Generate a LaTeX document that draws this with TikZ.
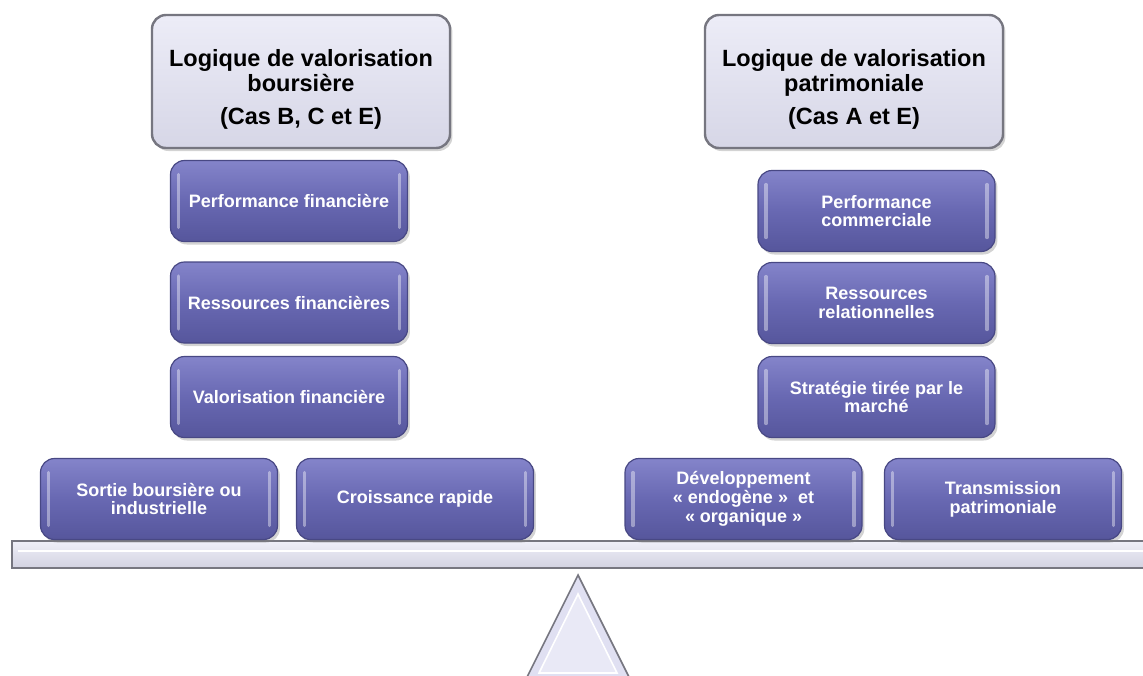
\documentclass[tikz,border=0pt]{standalone}
\usepackage{fontspec}
\setmainfont{Liberation Sans}
\usetikzlibrary{shadows}

\definecolor{boxblue}{RGB}{104,104,178}
\definecolor{boxtop}{RGB}{132,132,202}
\definecolor{boxbot}{RGB}{86,86,156}
\definecolor{boxedge}{RGB}{72,72,132}
\definecolor{lavender}{RGB}{224,224,242}
\definecolor{edgegray}{RGB}{118,118,128}

\tikzset{
  gloss/.style={path picture={
      \draw[white,opacity=.4,line width=1.6pt,line cap=round]
        ([xshift=4pt,yshift=-7pt]path picture bounding box.north west) --
        ([xshift=4pt,yshift=7pt]path picture bounding box.south west)
        ([xshift=-4pt,yshift=-7pt]path picture bounding box.north east) --
        ([xshift=-4pt,yshift=7pt]path picture bounding box.south east);}},
  titlebox/.style={draw=edgegray, line width=1.2pt, rounded corners=7pt,
    top color=lavender!60!white, bottom color=lavender!90!gray,
    minimum width=149pt, minimum height=66.5pt, align=center,
    font=\bfseries\fontsize{11.75}{12.5}\selectfont,
    drop shadow={opacity=.35,shadow xshift=1.2pt,shadow yshift=-1.5pt}},
  valbox/.style={draw=boxedge, line width=.6pt, rounded corners=7pt,
    top color=boxtop, bottom color=boxbot, middle color=boxblue,
    text=white, minimum width=118.5pt, minimum height=40.5pt, align=center,
    font=\bfseries\fontsize{9}{9.4}\selectfont, gloss,
    drop shadow={opacity=.35,shadow xshift=1.2pt,shadow yshift=-1.5pt}},
  plank/.style={draw=edgegray, line width=1pt,
    top color=lavender!50!white, bottom color=lavender!85!gray}
}

\begin{document}
\begin{tikzpicture}[x=0.5pt,y=-0.5pt]
        \useasboundingbox (0,0) rectangle (1143,675);
        \clip (0,0) rectangle (1143,675);

        % draw the two titles
        \node[titlebox] (titreB) at (301,81.5)
              {\rule{0pt}{16pt}Logique de valorisation\\ boursière\\[4pt] (Cas B, C et E)};
        \node[titlebox] (titreP) at (854,81.5)
              {\rule{0pt}{16pt}Logique de valorisation\\ patrimoniale\\[4pt] (Cas A et E)};

        % draw the beam of the scale
        \draw[plank] (12,541) rectangle (1170,568);
        \draw[white,line width=1pt] (18,551) -- (1170,551);

        % draw the pivot
        \filldraw[fill=lavender,draw=edgegray,line width=.8pt]
              (578,575) -- (630,679) -- (526,679) -- cycle;
        \filldraw[fill=lavender!70!white,draw=white,line width=.8pt]
              (578,594) -- (617,673) -- (539,673) -- cycle;

        % draw the boxes on each side
        \foreach \name/\x/\y/\txt in {
            % the column of the stock market side
            perfF/289/201/{Performance financière},
            ressF/289/302.5/{Ressources financières},
            valoF/289/397/{Valorisation financière},
            % the column of the family side
            perfC/876.5/211/{Performance\\commerciale},
            ressR/876.5/303/{Ressources\\relationnelles},
            strat/876.5/397/{Stratégie tirée par le\\marché},
            % the boxes lying on the beam
            sortie/159/499/{Sortie boursière ou\\industrielle},
            crois/415/499/{Croissance rapide},
            devel/743.5/499/{Développement\\«~endogène~»~ et\\«~organique~»},
            trans/1003/499/{Transmission\\patrimoniale}}
                \node[valbox] (\name) at (\x,\y) {\txt};
\end{tikzpicture}
\end{document}
